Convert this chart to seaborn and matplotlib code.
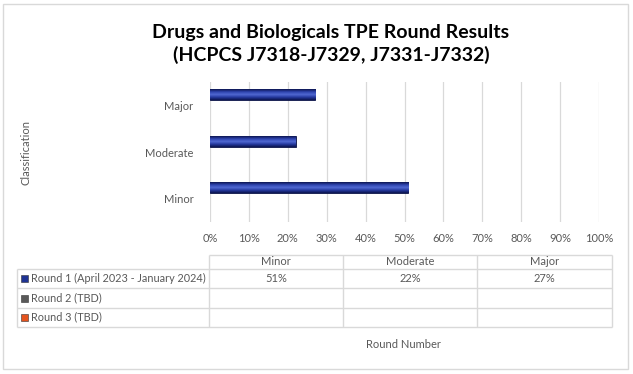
#!/usr/bin/python

'''
Drugs and Biologicals TPE round results: bar chart with data table
'''

import numpy as np
import pandas as pd
from matplotlib import pyplot as plt
from matplotlib import colors as mcolors
import seaborn as sns

# - data ----------------------------------------------------------------------
classes = ['Major', 'Moderate', 'Minor']
table_cols = ['Minor', 'Moderate', 'Major']
rounds = ['Round 1 (April 2023 - January 2024)', 'Round 2 (TBD)', 'Round 3 (TBD)']
round1 = [27, 22, 51]            # percent, in order of `classes`
round2 = [np.nan, np.nan, np.nan]
round3 = [np.nan, np.nan, np.nan]
round_colors = ['#1F3393', '#595959', '#E4531E']
xticks = list(range(0, 101, 10))

title = 'Drugs and Biologicals TPE Round Results\n(HCPCS J7318-J7329, J7331-J7332)'

# - build frame -----------------------------------------------------------------
df = pd.DataFrame({'Classification': classes * 3,
                   'Round': np.repeat(rounds, len(classes)),
                   'pct': round1 + round2 + round3})

W, H = 633, 374
plt.rcParams['font.family'] = ['Lato', 'DejaVu Sans']
grey = '#595959'
line = '#D9D9D9'

fig = plt.figure(figsize=(W / 100, H / 100), dpi=100)

# overlay in pixel coordinates for frame + table
over = fig.add_axes([0, 0, 1, 1])
over.set_xlim(0, W)
over.set_ylim(H, 0)
over.axis('off')
over.add_patch(plt.Rectangle((3, 4), 625, 365, fill=False, ec=line, lw=1))

# main bar axes
ax = fig.add_axes([210 / W, 1 - 222 / H, 389 / W, 140 / H])
sns.barplot(data=df, y='Classification', x='pct', hue='Round', hue_order=rounds,
            order=classes, orient='h', palette=round_colors, width=0.7,
            legend=False, ax=ax, linewidth=0)

# cylinder-ish gradient on each bar
grad = mcolors.LinearSegmentedColormap.from_list(
    'bar', ['#0C1550', '#2D43AE', '#5069D2', '#24389E', '#0C1550'])
for p in list(ax.patches):
    w = p.get_width()
    if not np.isfinite(w) or w <= 0:
        continue
    x0, y0, h = p.get_x(), p.get_y(), p.get_height()
    im = ax.imshow(np.linspace(0, 1, 64).reshape(-1, 1), cmap=grad, aspect='auto',
                   extent=(x0, x0 + w, y0 + h, y0), zorder=3)
    im.set_clip_path(p)
    p.set_edgecolor('#0A1245')
    p.set_linewidth(0.6)

ax.set_xlim(0, 100)
ax.set_ylim(2.5, -0.5)
ax.set_xticks(xticks)
ax.set_xticklabels([f'{t}%' for t in xticks])
ax.grid(axis='x', color=line, lw=0.9)
ax.set_axisbelow(True)
for s in ax.spines.values():
    s.set_visible(False)
ax.tick_params(length=0, labelsize=8, colors=grey, pad=8)
ax.tick_params(axis='y', pad=12)
ax.set_xlabel('')
ax.set_ylabel('')
ax.set_facecolor('none')

# titles
over.text(331, 44, title, ha='center', va='center', fontsize=14, fontweight='bold',
          color='black', linespacing=1.3)
over.text(26, 152, 'Classification', rotation=90, ha='center', va='center',
          fontsize=8, color=grey)
over.text(403, 344, 'Round Number', ha='center', va='center', fontsize=8, color=grey)

# data table
col_x = [17, 209, 343, 477, 612]
row_y = [254.5, 269.3, 288.3, 307.7, 326.7]
over.hlines(row_y[0], col_x[1], col_x[-1], color=line, lw=1)
over.hlines(row_y[1:], col_x[0], col_x[-1], color=line, lw=1)
over.vlines(col_x[0], row_y[1], row_y[-1], color=line, lw=1)
over.vlines(col_x[1:], row_y[0], row_y[-1], color=line, lw=1)

for j, name in enumerate(table_cols):
    cx = (col_x[j + 1] + col_x[j + 2]) / 2
    over.text(cx, (row_y[0] + row_y[1]) / 2, name, ha='center', va='center',
              fontsize=8, color=grey)

vals = [round1, round2, round3]
for i, r in enumerate(rounds):
    cy = (row_y[i + 1] + row_y[i + 2]) / 2
    over.add_patch(plt.Rectangle((21, cy - 3.5), 7, 7, fc=round_colors[i],
                                 ec='#333333', lw=0.4))
    over.text(31, cy, r, ha='left', va='center', fontsize=7.8, color=grey)
    for j, name in enumerate(table_cols):
        v = vals[i][classes.index(name)]
        if np.isfinite(v):
            cx = (col_x[j + 1] + col_x[j + 2]) / 2
            over.text(cx, cy, f'{v:.0f}%', ha='center', va='center', fontsize=8,
                      color=grey)

fig.savefig('out.png', dpi=100)
